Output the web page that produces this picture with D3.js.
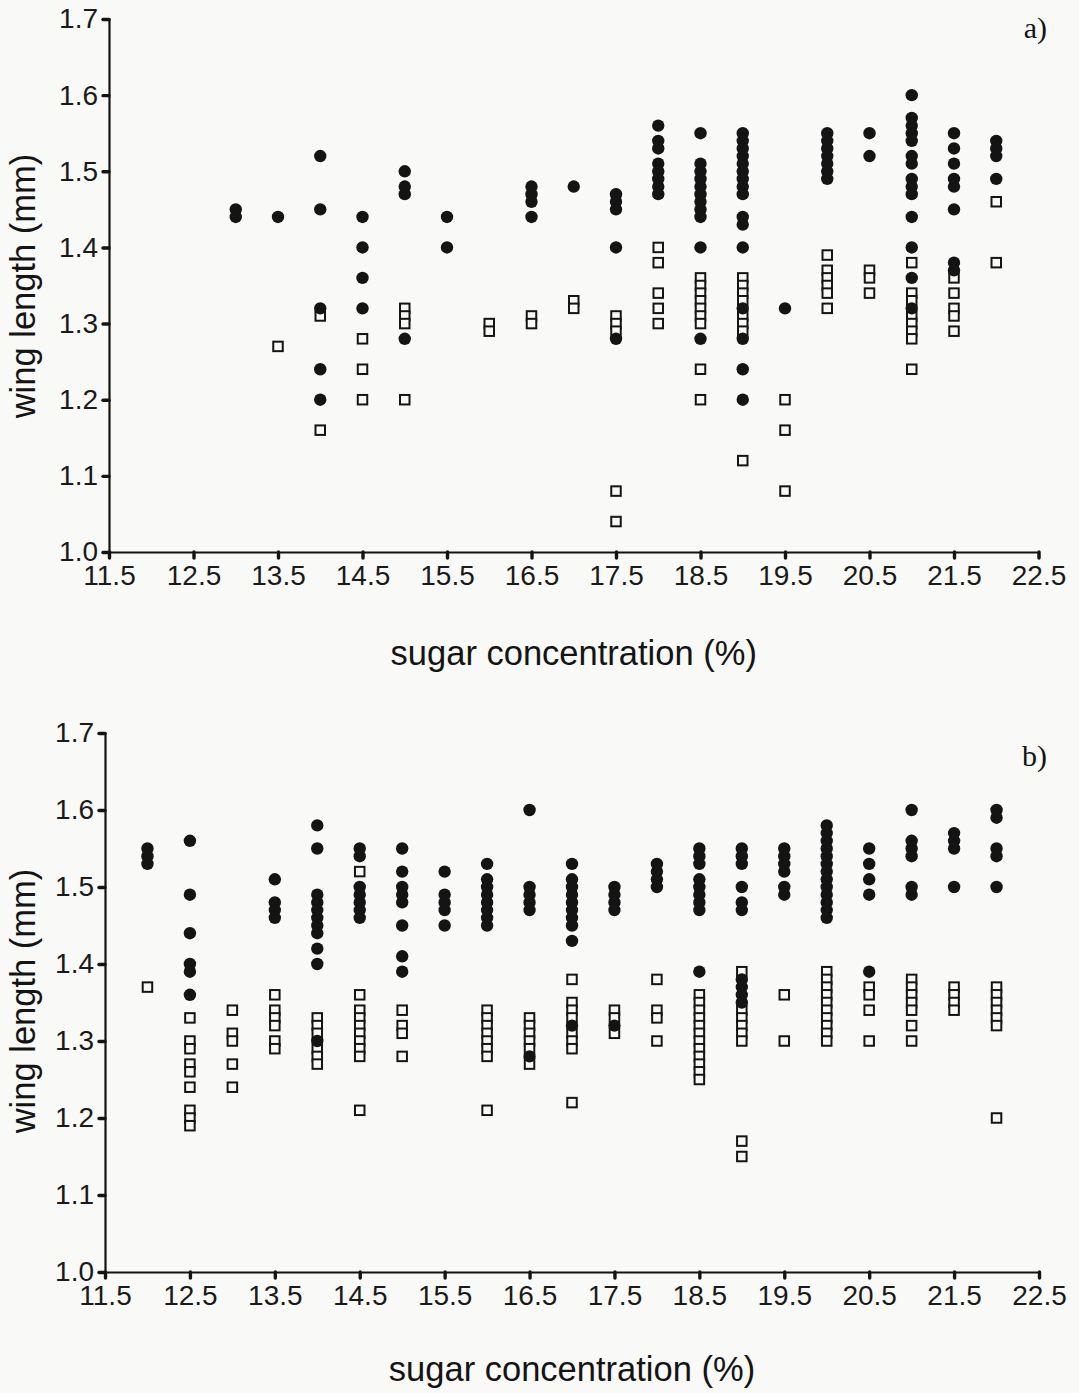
<!DOCTYPE html>
<html>
<head>
<meta charset="utf-8">
<script src="https://cdn.jsdelivr.net/npm/d3@7"></script>
<style>
  html, body { margin: 0; padding: 0; background: #f9f9f7; }
  svg { display: block; }
  .tick text { font-family: "Liberation Sans", Arial, sans-serif; fill: #1a1a1a; }
</style>
</head>
<body>
<svg id="chart" width="1079" height="1393"></svg>
<script>
// Tick values shared by both panels
const xTickValues = [11.5, 12.5, 13.5, 14.5, 15.5, 16.5, 17.5, 18.5, 19.5, 20.5, 21.5, 22.5];
const yTickValues = [1.0, 1.1, 1.2, 1.3, 1.4, 1.5, 1.6, 1.7];

// Panel a: [sugar concentration, wing lengths...]
const panelAFilled = [
  [13, [1.45, 1.44]],
  [13.5, [1.44]],
  [14, [1.52, 1.45, 1.32, 1.24, 1.20]],
  [14.5, [1.44, 1.40, 1.36, 1.32]],
  [15, [1.50, 1.48, 1.47, 1.28]],
  [15.5, [1.44, 1.40]],
  [16.5, [1.48, 1.47, 1.46, 1.44]],
  [17, [1.48]],
  [17.5, [1.47, 1.46, 1.45, 1.40, 1.28]],
  [18, [1.56, 1.54, 1.53, 1.51, 1.50, 1.49, 1.48, 1.47]],
  [18.5, [1.55, 1.51, 1.50, 1.49, 1.48, 1.47, 1.46, 1.45, 1.44, 1.40, 1.28]],
  [19, [1.55, 1.54, 1.53, 1.52, 1.51, 1.50, 1.49, 1.48, 1.47, 1.44, 1.43, 1.40, 1.32, 1.28, 1.24, 1.20]],
  [19.5, [1.32]],
  [20, [1.55, 1.54, 1.53, 1.52, 1.51, 1.50, 1.49]],
  [20.5, [1.55, 1.52]],
  [21, [1.60, 1.57, 1.56, 1.55, 1.54, 1.52, 1.51, 1.49, 1.48, 1.47, 1.44, 1.40, 1.36, 1.32]],
  [21.5, [1.55, 1.53, 1.51, 1.49, 1.48, 1.45, 1.38, 1.37]],
  [22, [1.54, 1.53, 1.52, 1.49]]
];
const panelAOpen = [
  [13.5, [1.27]],
  [14, [1.31, 1.16]],
  [14.5, [1.28, 1.24, 1.20]],
  [15, [1.32, 1.31, 1.30, 1.20]],
  [16, [1.30, 1.29]],
  [16.5, [1.31, 1.30]],
  [17, [1.33, 1.32]],
  [17.5, [1.31, 1.30, 1.29, 1.08, 1.04]],
  [18, [1.40, 1.38, 1.34, 1.32, 1.30]],
  [18.5, [1.36, 1.35, 1.34, 1.33, 1.32, 1.31, 1.30, 1.24, 1.20]],
  [19, [1.36, 1.35, 1.34, 1.33, 1.31, 1.30, 1.29, 1.12]],
  [19.5, [1.20, 1.16, 1.08]],
  [20, [1.39, 1.37, 1.36, 1.35, 1.34, 1.32]],
  [20.5, [1.37, 1.36, 1.34]],
  [21, [1.38, 1.34, 1.33, 1.31, 1.30, 1.29, 1.28, 1.24]],
  [21.5, [1.36, 1.34, 1.32, 1.31, 1.29]],
  [22, [1.46, 1.38]]
];

// Panel b
const panelBFilled = [
  [12, [1.55, 1.54, 1.53]],
  [12.5, [1.56, 1.49, 1.44, 1.40, 1.39, 1.36]],
  [13.5, [1.51, 1.48, 1.47, 1.46]],
  [14, [1.58, 1.55, 1.49, 1.48, 1.47, 1.46, 1.45, 1.44, 1.42, 1.40, 1.30]],
  [14.5, [1.55, 1.54, 1.50, 1.49, 1.48, 1.47, 1.46]],
  [15, [1.55, 1.52, 1.50, 1.49, 1.48, 1.45, 1.41, 1.39]],
  [15.5, [1.52, 1.49, 1.48, 1.47, 1.45]],
  [16, [1.53, 1.51, 1.50, 1.49, 1.48, 1.47, 1.46, 1.45]],
  [16.5, [1.60, 1.50, 1.49, 1.48, 1.47, 1.28]],
  [17, [1.53, 1.51, 1.50, 1.49, 1.48, 1.47, 1.46, 1.45, 1.43, 1.32]],
  [17.5, [1.50, 1.49, 1.48, 1.47, 1.32]],
  [18, [1.53, 1.52, 1.51, 1.50]],
  [18.5, [1.55, 1.54, 1.53, 1.51, 1.50, 1.49, 1.48, 1.47, 1.39]],
  [19, [1.55, 1.54, 1.53, 1.50, 1.48, 1.47, 1.38, 1.37, 1.36, 1.35]],
  [19.5, [1.55, 1.54, 1.53, 1.52, 1.50, 1.49]],
  [20, [1.58, 1.57, 1.56, 1.55, 1.54, 1.53, 1.52, 1.51, 1.50, 1.49, 1.48, 1.47, 1.46]],
  [20.5, [1.55, 1.53, 1.51, 1.49, 1.39]],
  [21, [1.60, 1.56, 1.55, 1.54, 1.50, 1.49]],
  [21.5, [1.57, 1.56, 1.55, 1.50]],
  [22, [1.60, 1.59, 1.55, 1.54, 1.50]]
];
const panelBOpen = [
  [12, [1.37]],
  [12.5, [1.33, 1.30, 1.29, 1.27, 1.26, 1.24, 1.21, 1.20, 1.19]],
  [13, [1.34, 1.31, 1.30, 1.27, 1.24]],
  [13.5, [1.36, 1.34, 1.33, 1.32, 1.30, 1.29]],
  [14, [1.33, 1.32, 1.31, 1.29, 1.28, 1.27]],
  [14.5, [1.52, 1.36, 1.34, 1.33, 1.32, 1.31, 1.30, 1.29, 1.28, 1.21]],
  [15, [1.34, 1.32, 1.31, 1.28]],
  [16, [1.34, 1.33, 1.32, 1.31, 1.30, 1.29, 1.28, 1.21]],
  [16.5, [1.33, 1.32, 1.31, 1.30, 1.29, 1.27]],
  [17, [1.38, 1.35, 1.34, 1.33, 1.31, 1.30, 1.29, 1.22]],
  [17.5, [1.34, 1.33, 1.31]],
  [18, [1.38, 1.34, 1.33, 1.30]],
  [18.5, [1.36, 1.35, 1.34, 1.33, 1.32, 1.31, 1.30, 1.29, 1.28, 1.27, 1.26, 1.25]],
  [19, [1.39, 1.34, 1.33, 1.32, 1.31, 1.30, 1.17, 1.15]],
  [19.5, [1.36, 1.30]],
  [20, [1.39, 1.38, 1.37, 1.36, 1.35, 1.34, 1.33, 1.32, 1.31, 1.30]],
  [20.5, [1.37, 1.36, 1.34, 1.30]],
  [21, [1.38, 1.37, 1.36, 1.35, 1.34, 1.32, 1.30]],
  [21.5, [1.37, 1.36, 1.35, 1.34]],
  [22, [1.37, 1.36, 1.35, 1.34, 1.33, 1.32, 1.20]]
];

const xTitle = "sugar concentration (%)";
const yTitle = "wing length (mm)";

const svg = d3.select("#chart");
const ink = "#141414";
const paper = "#f9f9f7";

function flatten(groups) {
  return groups.flatMap(([x, ys]) => ys.map(y => ({ x, y })));
}

function drawPanel(opts) {
  const { left, right, top, bottom, tag, tagY, titleY, yTitleCenter, filled, open } = opts;

  const x = d3.scaleLinear().domain([11.5, 22.5]).range([left, right]);
  const y = d3.scaleLinear().domain([1.0, 1.7]).range([bottom, top]);
  const g = svg.append("g");

  // axes
  const xAxis = d3.axisBottom(x).tickValues(xTickValues).tickFormat(d3.format(".1f"))
    .tickSize(6).tickPadding(7);
  const yAxis = d3.axisLeft(y).tickValues(yTickValues).tickFormat(d3.format(".1f"))
    .tickSize(6).tickPadding(5);

  const gx = g.append("g").attr("transform", `translate(0,${bottom})`).call(xAxis);
  const gy = g.append("g").attr("transform", `translate(${left},0)`).call(yAxis);

  [gx, gy].forEach(a => {
    a.select(".domain").attr("stroke", ink).attr("stroke-width", 2.2);
    a.selectAll(".tick line").attr("stroke", ink).attr("stroke-width", 3.4).attr("stroke-linecap", "round");
    a.selectAll(".tick text").attr("font-size", 28);
  });

  // open squares underneath, filled circles on top
  const sq = 9.5;
  g.append("g").selectAll("rect").data(flatten(open)).join("rect")
    .attr("x", d => x(d.x) - sq / 2)
    .attr("y", d => y(d.y) - sq / 2)
    .attr("width", sq).attr("height", sq)
    .attr("fill", paper).attr("stroke", ink).attr("stroke-width", 2);

  g.append("g").selectAll("circle").data(flatten(filled)).join("circle")
    .attr("cx", d => x(d.x))
    .attr("cy", d => y(d.y))
    .attr("r", 6.2)
    .attr("fill", ink);

  // titles
  g.append("text")
    .attr("x", (left + right) / 2).attr("y", titleY)
    .attr("text-anchor", "middle")
    .attr("font-family", "Liberation Sans, Arial, sans-serif")
    .attr("font-size", 34.5).attr("fill", ink)
    .text(xTitle);

  g.append("text")
    .attr("transform", `translate(35,${yTitleCenter}) rotate(-90)`)
    .attr("text-anchor", "middle")
    .attr("font-family", "Liberation Sans, Arial, sans-serif")
    .attr("font-size", 34.5).attr("fill", ink)
    .text(yTitle);

  g.append("text")
    .attr("x", 1047).attr("y", tagY)
    .attr("text-anchor", "end")
    .attr("font-family", "Liberation Serif, Times New Roman, serif")
    .attr("font-size", 30).attr("fill", ink)
    .text(tag);
}

drawPanel({
  left: 109, right: 1038.5, top: 19, bottom: 552,
  tag: "a)", tagY: 38, titleY: 665, yTitleCenter: 286,
  filled: panelAFilled, open: panelAOpen
});

drawPanel({
  left: 105, right: 1039, top: 733, bottom: 1272,
  tag: "b)", tagY: 766, titleY: 1381, yTitleCenter: 1001,
  filled: panelBFilled, open: panelBOpen
});
</script>
</body>
</html>
